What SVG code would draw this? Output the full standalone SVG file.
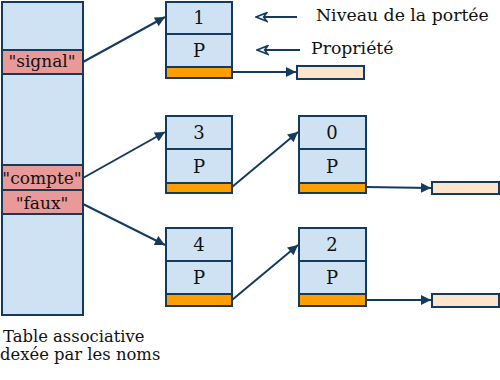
<svg xmlns="http://www.w3.org/2000/svg" width="500" height="380" viewBox="0 0 500 380">
<style>
.cell{fill:#cfe2f3;stroke:#143a5e;stroke-width:2}
.key{fill:#ea9999;stroke:#143a5e;stroke-width:2}
.org{fill:#ff9e00;stroke:#143a5e;stroke-width:2}
.end{fill:#fde5cd;stroke:#143a5e;stroke-width:2}
.t{font-family:"DejaVu Serif",serif;font-size:17px;fill:#111}
.n{font-size:18px}
.b{font-size:16.4px}
.c{text-anchor:middle}
.ln{stroke:#143a5e;stroke-width:2;fill:none}
</style>
<defs>
<marker id="ah" viewBox="0 0 10 10" refX="10" refY="5" markerWidth="6" markerHeight="5" orient="auto" markerUnits="strokeWidth">
<path d="M0,0 L10,5 L0,10 z" fill="#143a5e"/>
</marker>
<marker id="oh" viewBox="0 0 12 10" refX="11" refY="5" markerWidth="6.5" markerHeight="5.5" orient="auto" markerUnits="strokeWidth">
<path d="M1,1 L11,5 L1,9 L4,5 z" fill="#ffffff" stroke="#143a5e" stroke-width="1.5"/>
</marker>
</defs>
<g id="table">
<rect class="cell" x="2" y="2" width="81" height="313"/>
<rect class="key" x="2" y="50" width="81" height="24"/>
<rect class="key" x="2" y="165" width="81" height="25"/>
<rect class="key" x="2" y="190" width="81" height="24"/>
<text class="t c" x="42" y="67">"signal"</text>
<text class="t c" x="42" y="184">"compte"</text>
<text class="t c" x="42" y="209">"faux"</text>
<text class="t b" x="3" y="342">Table associative</text>
<text class="t b" x="0" y="360">dexée par les noms</text>
</g>
<g id="node1">
<rect class="cell" x="166" y="2" width="66" height="32"/>
<rect class="cell" x="166" y="34" width="66" height="33"/>
<rect class="org" x="166" y="67" width="66" height="11"/>
<text class="t n c" x="199" y="24">1</text>
<text class="t n c" x="199" y="57">P</text>
</g>
<g id="node3">
<rect class="cell" x="166" y="116" width="66" height="33"/>
<rect class="cell" x="166" y="149" width="66" height="34"/>
<rect class="org" x="166" y="183" width="66" height="10"/>
<text class="t n c" x="199" y="139">3</text>
<text class="t n c" x="199" y="173">P</text>
</g>
<g id="node4">
<rect class="cell" x="166" y="228" width="66" height="33"/>
<rect class="cell" x="166" y="261" width="66" height="33"/>
<rect class="org" x="166" y="294" width="66" height="12"/>
<text class="t n c" x="199" y="251">4</text>
<text class="t n c" x="199" y="284">P</text>
</g>
<g id="node0">
<rect class="cell" x="299" y="116" width="67" height="33"/>
<rect class="cell" x="299" y="149" width="67" height="34"/>
<rect class="org" x="299" y="183" width="67" height="10"/>
<text class="t n c" x="332" y="139">0</text>
<text class="t n c" x="332" y="173">P</text>
</g>
<g id="node2">
<rect class="cell" x="299" y="228" width="67" height="33"/>
<rect class="cell" x="299" y="261" width="67" height="33"/>
<rect class="org" x="299" y="294" width="67" height="12"/>
<text class="t n c" x="332" y="251">2</text>
<text class="t n c" x="332" y="284">P</text>
</g>
<g id="end1"><rect class="end" x="297" y="66" width="67" height="13"/></g>
<g id="end2"><rect class="end" x="432" y="182" width="67" height="12"/></g>
<g id="end3"><rect class="end" x="432" y="294" width="67" height="13"/></g>
<g id="legend">
<text class="t" x="316" y="21" style="font-size:17.3px">Niveau de la portée</text>
<text class="t" x="311" y="54" style="font-size:17.3px">Propriété</text>
</g>
<g id="connectors">
<line class="ln" x1="83" y1="62" x2="165" y2="17" marker-end="url(#ah)"/>
<line class="ln" x1="83" y1="178" x2="165" y2="132" marker-end="url(#ah)"/>
<line class="ln" x1="83" y1="204" x2="165" y2="245" marker-end="url(#ah)"/>
<line class="ln" x1="232" y1="72" x2="296" y2="72" marker-end="url(#ah)"/>
<line class="ln" x1="232" y1="187" x2="298" y2="132" marker-end="url(#ah)"/>
<line class="ln" x1="366" y1="187" x2="431" y2="188" marker-end="url(#ah)"/>
<line class="ln" x1="232" y1="300" x2="298" y2="245" marker-end="url(#ah)"/>
<line class="ln" x1="366" y1="300" x2="431" y2="300" marker-end="url(#ah)"/>
<line class="ln" x1="297" y1="17" x2="256" y2="17" marker-end="url(#oh)"/>
<line class="ln" x1="300" y1="50" x2="257" y2="50" marker-end="url(#oh)"/>
</g>
</svg>
